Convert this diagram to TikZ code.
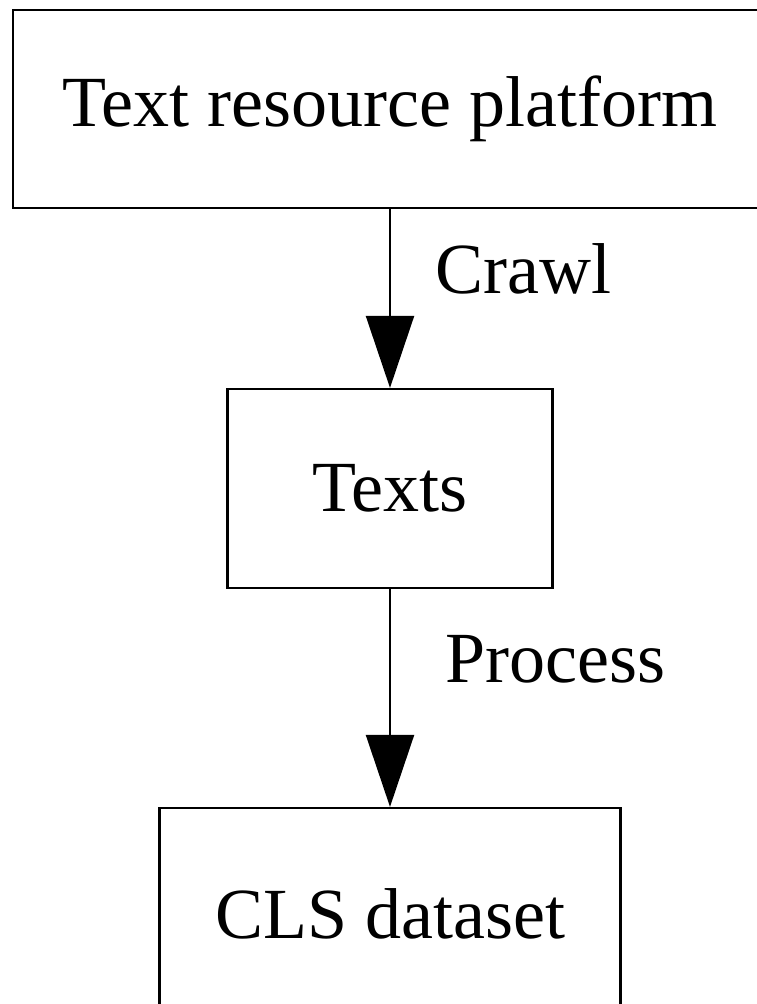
\documentclass[tikz,border=0pt]{standalone}
\usepackage{fontspec}
\setmainfont{Liberation Serif}
\usetikzlibrary{arrows.meta}
\begin{document}
\begin{tikzpicture}[x=1pt,y=-1pt,
  box/.style={draw, line width=2.2pt, inner sep=0pt,
    font=\fontsize{72}{86}\selectfont},
  flow/.style={line width=2.2pt, -{Triangle[width=48pt,length=72pt]}},
  lbl/.style={anchor=base west, inner sep=0pt,
    font=\fontsize{72}{86}\selectfont}]
\useasboundingbox (0,0) rectangle (757,1004);
\clip (0,0) rectangle (757,1004);
% boxes
\node[box, minimum width=754pt, minimum height=198pt] (platform) at (390,109) {Text resource platform};
\node[box, minimum width=325pt, minimum height=199pt] (texts) at (390,488.5) {Texts};
\node[box, minimum width=461pt, minimum height=212pt] (cls) at (390,914) {CLS dataset};
% connectors
\draw[flow] (platform.south) -- (texts.north);
\draw[flow] (texts.south) -- (cls.north);
% connector labels
\node[lbl] (crawl) at (435,293) {Crawl};
\node[lbl] (process) at (445,682) {Process};
\end{tikzpicture}
\end{document}
